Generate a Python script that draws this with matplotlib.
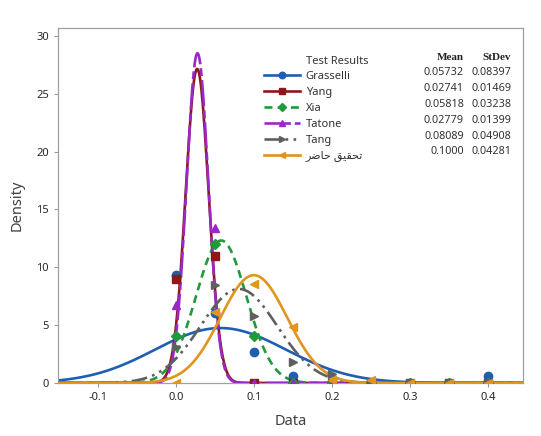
import numpy as np
import matplotlib.pyplot as plt
from matplotlib.lines import Line2D

plt.rcParams['font.family'] = ['Noto Sans', 'DejaVu Sans']

# fitted distributions (mean, stdev) per study
names = ['Grasselli', 'Yang', 'Xia', 'Tatone', 'Tang',
         '\ufeae\ufebf\ufe8e\ufea3 \ufed6\ufef4\ufed8\ufea4\ufe97']
means = [0.05732, 0.02741, 0.05818, 0.02779, 0.08089, 0.1000]
stdevs = [0.08397, 0.01469, 0.03238, 0.01399, 0.04908, 0.04281]
mean_txt = ['0.05732', '0.02741', '0.05818', '0.02779', '0.08089', '0.1000']
sd_txt = ['0.08397', '0.01469', '0.03238', '0.01399', '0.04908', '0.04281']

# binned densities
bins = [0.0, 0.05, 0.1, 0.15, 0.2, 0.25, 0.3, 0.35, 0.4]
grasselli_d = [9.3, 6.05, 2.7, 0.6, 0.0, 0.0, 0.0, 0.0, 0.6]
yang_d = [9.0, 11.0, 0.0, 0.0, 0.0, 0.0, 0.0, 0.0, 0.0]
xia_d = [4.05, 12.0, 4.05, 0.0, 0.0, 0.0, 0.0, 0.0, 0.0]
tatone_d = [6.7, 13.4, 0.0, 0.0, 0.0, 0.0, 0.0, 0.0, 0.0]
tang_d = [3.1, 8.5, 5.8, 1.8, 0.8, 0.0, 0.0, 0.0, 0.0]
hazer_d = [0.0, 6.1, 8.6, 4.8, 0.3, 0.3, 0.0, 0.0, 0.0]
dens = [grasselli_d, yang_d, xia_d, tatone_d, tang_d, hazer_d]

colors = ['#1f5fb0', '#8e1818', '#1f9a3a', '#9a28c6', '#5f5f5f', '#e0951c']
markers = ['o', 's', 'D', '^', '>', '<']
msizes = [6, 6, 5.5, 6, 6, 6]
styles = ['-', '-', (0, (3, 2)), (0, (10, 1.5, 3, 1.5)), (0, (6, 2, 1, 2, 1, 2)), '-']

fig = plt.figure(figsize=(5.41, 4.36), dpi=100)
ax = fig.add_axes([0.107, 0.1216, 0.86, 0.8144])

xlo, xhi = -0.151, 0.445
xs = np.linspace(xlo, xhi, 600)
for i in range(len(names)):
    pdf = np.exp(-0.5 * ((xs - means[i]) / stdevs[i]) ** 2) / (stdevs[i] * np.sqrt(2 * np.pi))
    ax.plot(xs, pdf, color=colors[i], lw=1.9, linestyle=styles[i], zorder=2 + i)
    ax.plot(bins, dens[i], linestyle='none', marker=markers[i], color=colors[i],
            markersize=msizes[i], zorder=10 + i)

ax.set_xlim(xlo, xhi)
ax.set_ylim(0, 30.7)
ax.set_xticks([-0.1, 0.0, 0.1, 0.2, 0.3, 0.4])
ax.set_xticklabels(['-0.1', '0.0', '0.1', '0.2', '0.3', '0.4'])
ax.set_yticks([0, 5, 10, 15, 20, 25, 30])
ax.tick_params(labelsize=8, colors='#999999', labelcolor='#262626', length=3, width=0.8)
for s in ax.spines.values():
    s.set_color('#a0a0a0')
    s.set_linewidth(0.9)
ax.set_xlabel('Data', fontsize=10.5, color='#404040', labelpad=8)
ax.set_ylabel('Density', fontsize=10.5, color='#404040', labelpad=8)

handles = [Line2D([], [], color=colors[i], lw=1.9, linestyle=styles[i], marker=markers[i],
                  markersize=msizes[i] - 1.3) for i in range(len(names))]
leg = ax.legend(handles, names, loc='upper left', bbox_to_anchor=(264 / 541, 1 - 71 / 436),
                bbox_transform=fig.transFigure, frameon=False, fontsize=8,
                handlelength=3.2, handletextpad=0.55, labelspacing=0.44,
                borderpad=0, borderaxespad=0)
for t in leg.get_texts():
    t.set_color('#333333')

fig.canvas.draw()
inv = fig.transFigure.inverted()
first = leg.get_texts()[0].get_window_extent()
x_lab = inv.transform((first.x0, 0))[0]
fig.text(x_lab, 1 - 62 / 436, 'Test Results', fontsize=8, color='#333333', va='center')
fig.text(464 / 541, 1 - 57 / 436, 'Mean', fontsize=8, fontweight='bold',
         family='Liberation Serif', color='#222222', ha='right', va='center')
fig.text(511 / 541, 1 - 57 / 436, 'StDev', fontsize=8, fontweight='bold',
         family='Liberation Serif', color='#222222', ha='right', va='center')
for t, m, sd in zip(leg.get_texts(), mean_txt, sd_txt):
    bb = t.get_window_extent()
    yc = inv.transform((0, (bb.y0 + bb.y1) / 2 + 4))[1]
    fig.text(464 / 541, yc, m, fontsize=7.8, color='#333333', ha='right', va='center')
    fig.text(511 / 541, yc, sd, fontsize=7.8, color='#333333', ha='right', va='center')

fig.savefig('out.png', dpi=100)
